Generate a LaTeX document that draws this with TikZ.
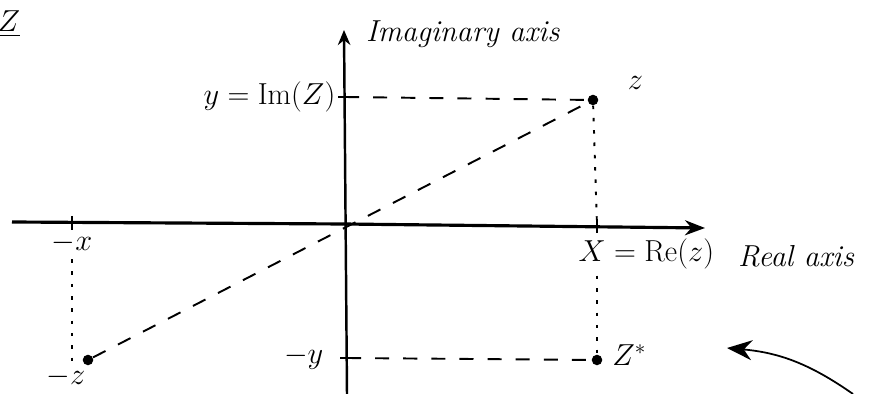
\documentclass[tikz,border=0pt]{standalone}
\usepackage{amsmath}
\usetikzlibrary{arrows.meta,positioning,calc}

\tikzset{
  axisline/.style={line width=1.8pt},
  guide/.style={line width=1.1pt,dash pattern=on 8pt off 8pt},
  dotguide/.style={line width=1.1pt,dash pattern=on 2pt off 5pt},
  pt/.style={circle,fill,inner sep=0pt,minimum size=6pt},
}

\begin{document}
\begin{tikzpicture}[x=0.02cm,y=-0.02cm,every node/.style={font=\LARGE},>=stealth]
        \useasboundingbox (0,0) rectangle (877,394);
        % axes
        \coordinate (o) at (343,224);
        \coordinate (xl) at (12,222);
        \coordinate (xr) at (705,228);
        \coordinate (yt) at (344,30);
        \coordinate (yb) at (347,394);
        \draw[axisline] (xl) -- (o);
        \draw[axisline,-{Stealth[length=4mm,width=3mm]}] (o) -- (xr);
        \draw[line width=1.4pt,-{Stealth[length=3mm,width=2.5mm]}] (yb) -- (yt);
        \node[anchor=west] (imlab) at (360,34) {\textit{Imaginary axis}};
        \node[anchor=west] (relab) at (732,256) {\textit{Real axis}};
        \node (title) at (9,24) {\underline{$Z$}};
        % points
        \node[pt] (z) at (593,100) {};
        \node[pt] (zc) at (597,360) {};
        \node[pt] (mz) at (88,360) {};
        \node[above right=0pt and 14pt of z] (zlab) {$z$};
        \node[right=2pt of zc,yshift=3pt] (zclab) {$Z^{*}$};
        \node (mzlab) at (66,377) {$-z$};
        % ticks on the axes
        \coordinate (im) at (345,97);
        \coordinate (mim) at (347,358);
        \coordinate (re) at (597,226);
        \coordinate (mre) at (72,223);
        \foreach \t in {im,mim}
          \draw[line width=1.2pt] ($(\t)+(-7,0)$) -- ($(\t)+(7,0)$);
        \foreach \t in {re,mre}
          \draw[line width=1.2pt] ($(\t)+(0,-7)$) -- ($(\t)+(0,7)$);
        \node[left=2pt of im] (imval) {$y=\mathrm{Im}(Z)$};
        \node[left=10pt of mim] (mimval) {$-y$};
        \node[below right=4pt and -14pt of re] (reval) {$X=\mathrm{Re}(z)$};
        \node[below=2pt of mre] (mreval) {$-x$};
        % projections
        \draw[guide] (im) -- (z);
        \draw[guide] (mim) -- (zc);
        \draw[guide] (mz) -- (z);
        \draw[dotguide] (z) -- (re);
        \draw[dotguide] (reval.south -| zc) -- (zc);
        \draw[dotguide] (mreval.south) -- (mreval.south |- mzlab.north);
        % pointer to the conjugate
        \coordinate (ps) at (853,394);
        \coordinate (pe) at (727,348);
        \draw[line width=1pt,-{Stealth[length=5mm,width=4mm]}] (ps) to[bend right=15] (pe);
      \end{tikzpicture}
\end{document}
